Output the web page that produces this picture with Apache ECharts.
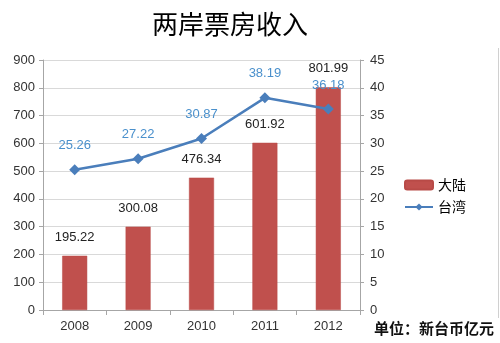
<!DOCTYPE html>
<html>
<head>
<meta charset="utf-8">
<script src="https://cdn.jsdelivr.net/npm/echarts@6/dist/echarts.min.js"></script>
<style>
  html, body { margin: 0; padding: 0; background: #fff; }
  #chart { width: 500px; height: 343px; }
</style>
</head>
<body>
<div id="chart"></div>
<script>
// Box office revenue, mainland vs Taiwan (unit: NT$ 100 million)
const years = ['2008', '2009', '2010', '2011', '2012'];
const mainland = [195.22, 300.08, 476.34, 601.92, 801.99];
const taiwan = [25.26, 27.22, 30.87, 38.19, 36.18];

const font = 'Liberation Sans, Noto Sans CJK SC, sans-serif';
const chart = echarts.init(document.getElementById('chart'), null, { renderer: 'canvas' });

chart.setOption({
  backgroundColor: '#ffffff',
  animation: false,
  title: {
    text: '两岸票房收入',
    left: 225,
    textAlign: 'center',
    top: 6,
    textStyle: { fontFamily: 'Noto Sans CJK SC, sans-serif', fontSize: 26, fontWeight: 'normal', color: '#000' }
  },
  legend: {
    orient: 'vertical',
    left: 399,
    top: 173,
    itemWidth: 28,
    itemHeight: 9,
    itemGap: 8,
    textStyle: { fontFamily: 'Noto Sans CJK SC, sans-serif', fontSize: 14, color: '#000' },
    data: ['大陆', '台湾']
  },
  grid: { left: 43, right: 140, top: 60, bottom: 33, containLabel: false },
  xAxis: {
    type: 'category',
    data: years,
    boundaryGap: true,
    axisLine: { lineStyle: { color: '#A6A6A6' } },
    axisTick: { show: true, length: 5, lineStyle: { color: '#A6A6A6' } },
    axisLabel: { fontFamily: font, fontSize: 13, color: '#333', margin: 10 }
  },
  yAxis: [
    {
      type: 'value', min: 0, max: 900, interval: 100,
      axisLine: { show: true, lineStyle: { color: '#A6A6A6' } },
      axisTick: { show: true, length: 4, lineStyle: { color: '#A6A6A6' } },
      splitLine: { lineStyle: { color: '#D9D9D9' } },
      axisLabel: { fontFamily: font, fontSize: 13, color: '#333', margin: 8 }
    },
    {
      type: 'value', min: 0, max: 45, interval: 5,
      axisLine: { show: true, lineStyle: { color: '#A6A6A6' } },
      axisTick: { show: true, length: 4, lineStyle: { color: '#A6A6A6' } },
      splitLine: { show: false },
      axisLabel: { fontFamily: font, fontSize: 13, color: '#333', margin: 10 }
    }
  ],
  series: [
    {
      name: '大陆',
      type: 'bar',
      yAxisIndex: 0,
      data: mainland,
      barWidth: 25,
      itemStyle: { color: '#C0504D', borderColor: '#B84A47', borderWidth: 0.5 },
      label: {
        show: true, position: 'top', distance: 12,
        fontFamily: font, fontSize: 13, color: '#222',
        formatter: p => p.value.toFixed(2)
      }
    },
    {
      name: '台湾',
      type: 'line',
      yAxisIndex: 1,
      data: taiwan,
      symbol: 'diamond',
      symbolSize: 11,
      lineStyle: { color: '#4A7EBB', width: 2.5 },
      itemStyle: { color: '#4A7EBB' },
      label: {
        show: true, position: 'top', distance: 12,
        fontFamily: font, fontSize: 13, color: '#4A90CC',
        formatter: p => p.value.toFixed(2)
      },
      z: 5
    }
  ],
  graphic: [
    {
      type: 'text',
      left: 374,
      top: 321,
      style: { text: '单位：新台币亿元', font: 'bold 15px "Noto Sans CJK SC", sans-serif', fill: '#111' }
    },
    {
      type: 'line',
      shape: { x1: 498.5, y1: 48, x2: 498.5, y2: 318 },
      style: { stroke: '#D0D0D0', lineWidth: 1 }
    }
  ]
});
</script>
</body>
</html>
